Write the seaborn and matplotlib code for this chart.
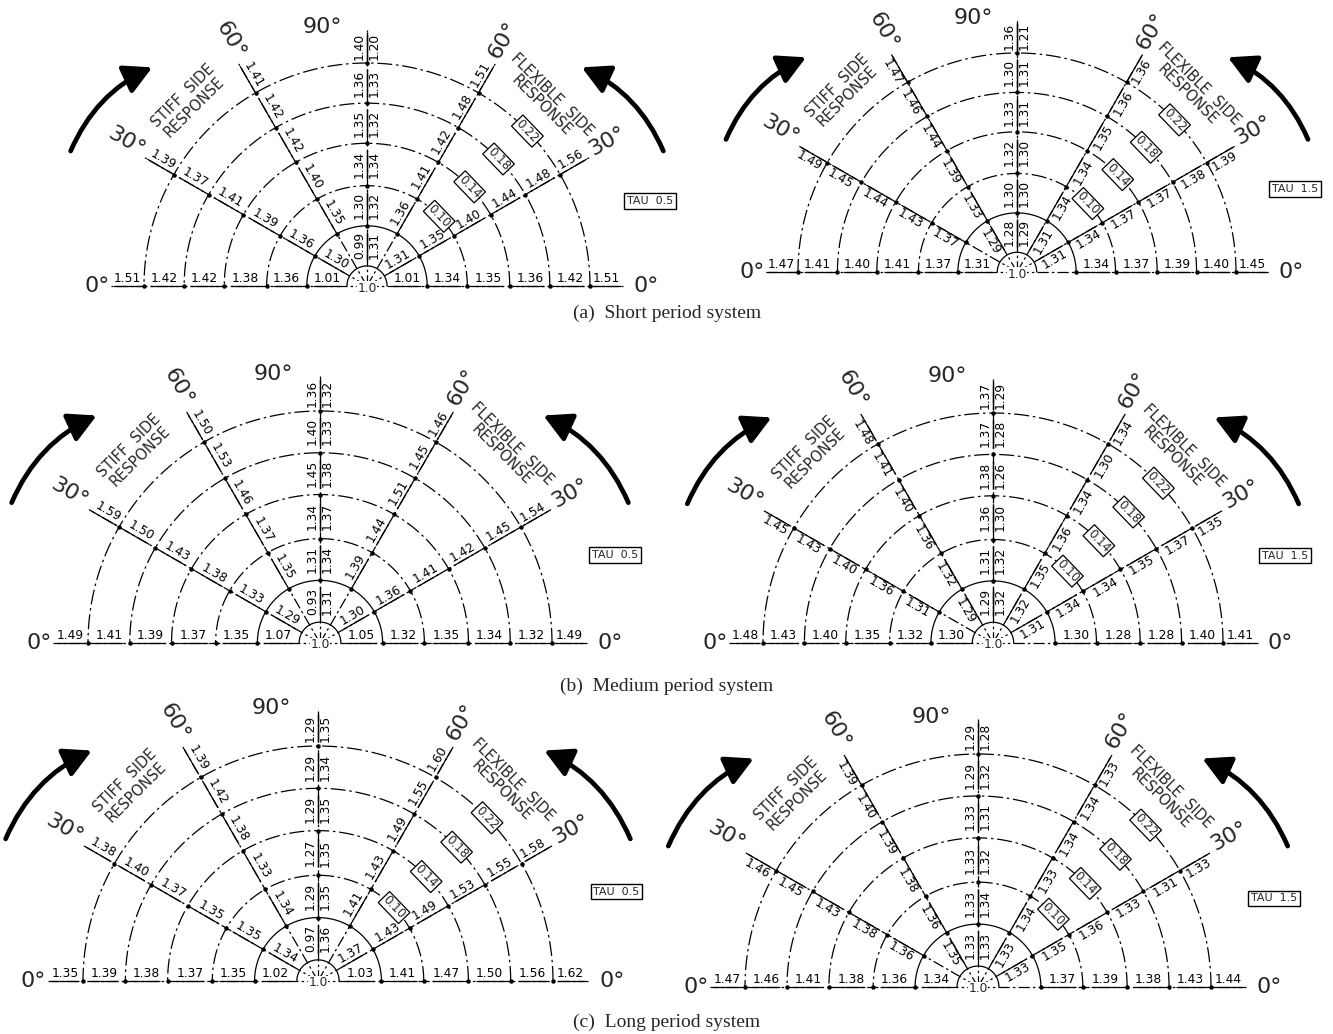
import numpy as np
import pandas as pd
import matplotlib
matplotlib.use("Agg")
import matplotlib.pyplot as plt
import seaborn as sns
from matplotlib.patches import FancyArrowPatch
from matplotlib.collections import LineCollection

# Ray order: left 0deg, left 30deg, left 60deg, 90deg (left column), 90deg (right column),
# right 60deg, right 30deg, right 0deg.  Values listed from centre outwards; None = no label.
short_tau05 = [
    [1.01, 1.36, 1.38, 1.42, 1.42, 1.51],
    [1.30, 1.36, 1.39, 1.41, 1.37, 1.39],
    [None, 1.35, 1.40, 1.42, 1.42, 1.41],
    [0.99, 1.30, 1.34, 1.35, 1.36, 1.40],
    [1.31, 1.32, 1.34, 1.32, 1.33, 1.20],
    [None, 1.36, 1.41, 1.42, 1.48, 1.51],
    [1.31, 1.35, 1.40, 1.44, 1.48, 1.56],
    [1.01, 1.34, 1.35, 1.36, 1.42, 1.51]]
short_tau15 = [
    [1.31, 1.37, 1.41, 1.40, 1.41, 1.47],
    [None, 1.37, 1.43, 1.44, 1.45, 1.49],
    [1.29, 1.33, 1.39, 1.44, 1.46, 1.47],
    [1.28, 1.30, 1.32, 1.33, 1.30, 1.36],
    [1.29, 1.30, 1.30, 1.31, 1.31, 1.21],
    [1.31, 1.34, 1.34, 1.35, 1.36, 1.36],
    [1.31, 1.34, 1.37, 1.37, 1.38, 1.39],
    [None, 1.34, 1.37, 1.39, 1.40, 1.45]]
medium_tau05 = [
    [1.07, 1.35, 1.37, 1.39, 1.41, 1.49],
    [1.29, 1.33, 1.38, 1.43, 1.50, 1.59],
    [None, 1.35, 1.37, 1.46, 1.53, 1.50],
    [0.93, 1.31, 1.34, 1.45, 1.40, 1.36],
    [1.31, 1.34, 1.37, 1.38, 1.33, 1.32],
    [None, 1.39, 1.44, 1.51, 1.45, 1.46],
    [1.30, 1.36, 1.41, 1.42, 1.45, 1.54],
    [1.05, 1.32, 1.35, 1.34, 1.32, 1.49]]
medium_tau15 = [
    [1.30, 1.32, 1.35, 1.40, 1.43, 1.48],
    [None, 1.31, 1.36, 1.40, 1.43, 1.45],
    [1.29, 1.32, 1.36, 1.40, 1.41, 1.48],
    [1.29, 1.31, 1.36, 1.38, 1.37, 1.37],
    [1.32, 1.32, 1.30, 1.26, 1.28, 1.29],
    [1.32, 1.35, 1.36, 1.34, 1.30, 1.34],
    [1.31, 1.34, 1.34, 1.35, 1.37, 1.35],
    [None, 1.30, 1.28, 1.28, 1.40, 1.41]]
long_tau05 = [
    [1.02, 1.35, 1.37, 1.38, 1.39, 1.35],
    [1.34, 1.35, 1.35, 1.37, 1.40, 1.38],
    [None, 1.34, 1.33, 1.38, 1.42, 1.39],
    [0.97, 1.29, 1.27, 1.29, 1.29, 1.29],
    [1.36, 1.35, 1.35, 1.35, 1.34, 1.35],
    [None, 1.41, 1.43, 1.49, 1.55, 1.60],
    [1.37, 1.43, 1.49, 1.53, 1.55, 1.58],
    [1.03, 1.41, 1.47, 1.50, 1.56, 1.62]]
long_tau15 = [
    [1.34, 1.36, 1.38, 1.41, 1.46, 1.47],
    [None, 1.36, 1.38, 1.43, 1.45, 1.46],
    [1.35, 1.36, 1.38, 1.39, 1.40, 1.39],
    [1.33, 1.33, 1.33, 1.33, 1.29, 1.29],
    [1.33, 1.34, 1.32, 1.31, 1.32, 1.28],
    [1.33, 1.34, 1.33, 1.34, 1.34, 1.33],
    [1.33, 1.35, 1.36, 1.33, 1.31, 1.33],
    [None, 1.37, 1.39, 1.38, 1.43, 1.44]]

ecc_labels = ["0.10", "0.14", "0.18", "0.22"]
tau_labels = ["TAU  0.5", "TAU  1.5"]
captions = ["(a)  Short period system", "(b)  Medium period system", "(c)  Long period system"]

RAY_ANGLES = [180, 150, 120, 90, 90, 60, 30, 0]
ARC_FR = [0.09, 0.27, 0.45, 0.64, 0.82, 1.0]
RAY_END = 1.15

# (values, cx, cy, R, tau index, draw eccentricity boxes)
panels = [
    (short_tau05, 367, 286, 223, 0, True),
    (short_tau15, 1017, 272, 219, 1, True),
    (medium_tau05, 320, 643, 232, 0, False),
    (medium_tau15, 993, 643, 230, 1, True),
    (long_tau05, 318, 981, 235, 0, True),
    (long_tau15, 978, 987, 233, 1, True),
]
caption_y = [313, 686, 1022]

sns.set_theme(style="white")
plt.rcParams['font.family'] = ['DejaVu Sans']

fig = plt.figure(figsize=(13.33, 10.34), dpi=100)
ax = fig.add_axes([0, 0, 1, 1])


def P(cx, cy, r, ang):
    a = np.deg2rad(ang)
    return cx + r * np.cos(a), cy - r * np.sin(a)


dash_rows, solid_rows, ray_rows = [], [], []
underlines = []
dots_x, dots_y = [], []
uid = 0
LAB_FS = 8.8
for vals, cx, cy, R, ti, ecc in panels:
    tau15 = ti == 1
    t = np.linspace(0, 180, 241)
    for k, f in enumerate(ARC_FR):
        xs, ys = P(cx, cy, f * R, t)
        tgt = solid_rows if k < 2 else dash_rows
        tgt.extend((uid, x, y) for x, y in zip(xs, ys))
        uid += 1
    for ang in [180, 150, 120, 90, 60, 30, 0]:
        xs, ys = P(cx, cy, np.array([0.0, RAY_END * R]), ang)
        ray_rows.extend((uid, x, y) for x, y in zip(xs, ys))
        uid += 1
        for f in ARC_FR[1:]:
            x, y = P(cx, cy, f * R, ang)
            dots_x.append(x); dots_y.append(y)
    edges = ARC_FR + [RAY_END]
    for j, ray in enumerate(vals):
        th = RAY_ANGLES[j]
        if j in (0, 7):
            nrm = 90
        elif j == 3:
            nrm = 180
        elif j == 4:
            nrm = 0
        elif j in (1, 2):
            nrm = th + 90 if tau15 else th - 90
        else:
            nrm = th - 90 if tau15 else th + 90
        rot = 90 if j in (3, 4) else (th if th <= 90 else th - 180)
        for k, v in enumerate(ray):
            if v is None:
                continue
            rm = 0.5 * (edges[k] + edges[k + 1]) * R
            x0, y0 = P(cx, cy, rm, th)
            ox, oy = P(0, 0, 7.5, nrm)
            ax.text(x0 + ox, y0 + oy, f"{v:.2f}", fontsize=LAB_FS, rotation=rot,
                    rotation_mode="anchor", ha="center", va="center", color="black")
            a1 = P(cx, cy, rm - 14, th)
            a2 = P(cx, cy, rm + 14, th)
            underlines.append([a1, a2])
    # centre label
    ax.text(cx, cy + 2, "1.0", fontsize=LAB_FS, ha="center", va="center",
            bbox=dict(boxstyle="square,pad=0.05", fc="white", ec="none"))
    # degree labels
    deg_fs = 16
    x, y = cx - 0.2 * R, cy - 1.16 * R
    ax.text(x, y, "90°", fontsize=deg_fs, ha="center", va="center")
    for ang, lab, rot in [(119, "60°", -60), (149, "30°", -30), (61, "60°", 60), (31, "30°", 30)]:
        x, y = P(cx, cy, 1.26 * R, ang)
        ax.text(x, y, lab, fontsize=deg_fs, rotation=rot, rotation_mode="anchor",
                ha="center", va="center")
    ax.text(cx - 1.21 * R, cy, "0°", fontsize=deg_fs, ha="center", va="center")
    ax.text(cx + 1.25 * R, cy, "0°", fontsize=deg_fs, ha="center", va="center")
    # side response texts
    x, y = P(cx, cy, 1.15 * R, 134)
    ax.text(x, y, "STIFF  SIDE\nRESPONSE", fontsize=10.5, rotation=45, rotation_mode="anchor",
            ha="center", va="center", multialignment="center", linespacing=1.05)
    x, y = P(cx, cy, 1.16 * R, 46)
    ax.text(x, y, "FLEXIBLE  SIDE\nRESPONSE", fontsize=10.5, rotation=-45, rotation_mode="anchor",
            ha="center", va="center", multialignment="center", linespacing=1.05)
    # curved arrows
    for a1, r1, a2, r2, rad in [(156, 1.46, 134, 1.37, -0.2), (24, 1.46, 46, 1.37, 0.2)]:
        p1 = P(cx, cy, r1 * R, a1)
        p2 = P(cx, cy, r2 * R, a2)
        arr = FancyArrowPatch(p1, p2, connectionstyle=f"arc3,rad={rad}",
                              arrowstyle="-|>,head_length=1.4,head_width=0.75",
                              mutation_scale=12, lw=3.4, color="black")
        ax.add_patch(arr)
    # TAU box
    ax.text(cx + 1.27 * R, cy - 0.38 * R, tau_labels[ti], fontsize=8, ha="center", va="center",
            bbox=dict(boxstyle="square,pad=0.25", fc="white", ec="black", lw=1.0))
    # eccentricity boxes
    if ecc:
        for lab, f in zip(ecc_labels, ARC_FR[2:]):
            x, y = P(cx, cy, f * R, 44)
            ax.text(x, y, lab, fontsize=8.6, rotation=-46, rotation_mode="anchor",
                    ha="center", va="center",
                    bbox=dict(boxstyle="square,pad=0.12", fc="white", ec="black", lw=0.9))

dash_df = pd.DataFrame(dash_rows, columns=["uid", "x", "y"])
solid_df = pd.DataFrame(solid_rows, columns=["uid", "x", "y"])
ray_df = pd.DataFrame(ray_rows, columns=["uid", "x", "y"])

sns.lineplot(data=dash_df, x="x", y="y", units="uid", estimator=None, sort=False,
             color="black", lw=0.9, linestyle=(0, (12, 3, 2, 3)), ax=ax, legend=False)
sns.lineplot(data=solid_df, x="x", y="y", units="uid", estimator=None, sort=False,
             color="black", lw=0.9, ax=ax, legend=False)
sns.lineplot(data=ray_df, x="x", y="y", units="uid", estimator=None, sort=False,
             color="black", lw=0.9, linestyle=(0, (9, 2.5, 2, 2.5)), ax=ax, legend=False)
ax.add_collection(LineCollection(underlines, colors="black", linewidths=0.9))
ax.plot(dots_x, dots_y, "o", color="black", ms=2.2, ls="none")

for cap, yv in zip(captions, caption_y):
    ax.text(667, yv, cap, fontsize=14, ha="center", va="center", family="Liberation Serif")

ax.set_xlim(0, 1333)
ax.set_ylim(1034, 0)
ax.set_xlabel("")
ax.set_ylabel("")
ax.axis("off")
fig.savefig("out.png", dpi=100, facecolor="white")
